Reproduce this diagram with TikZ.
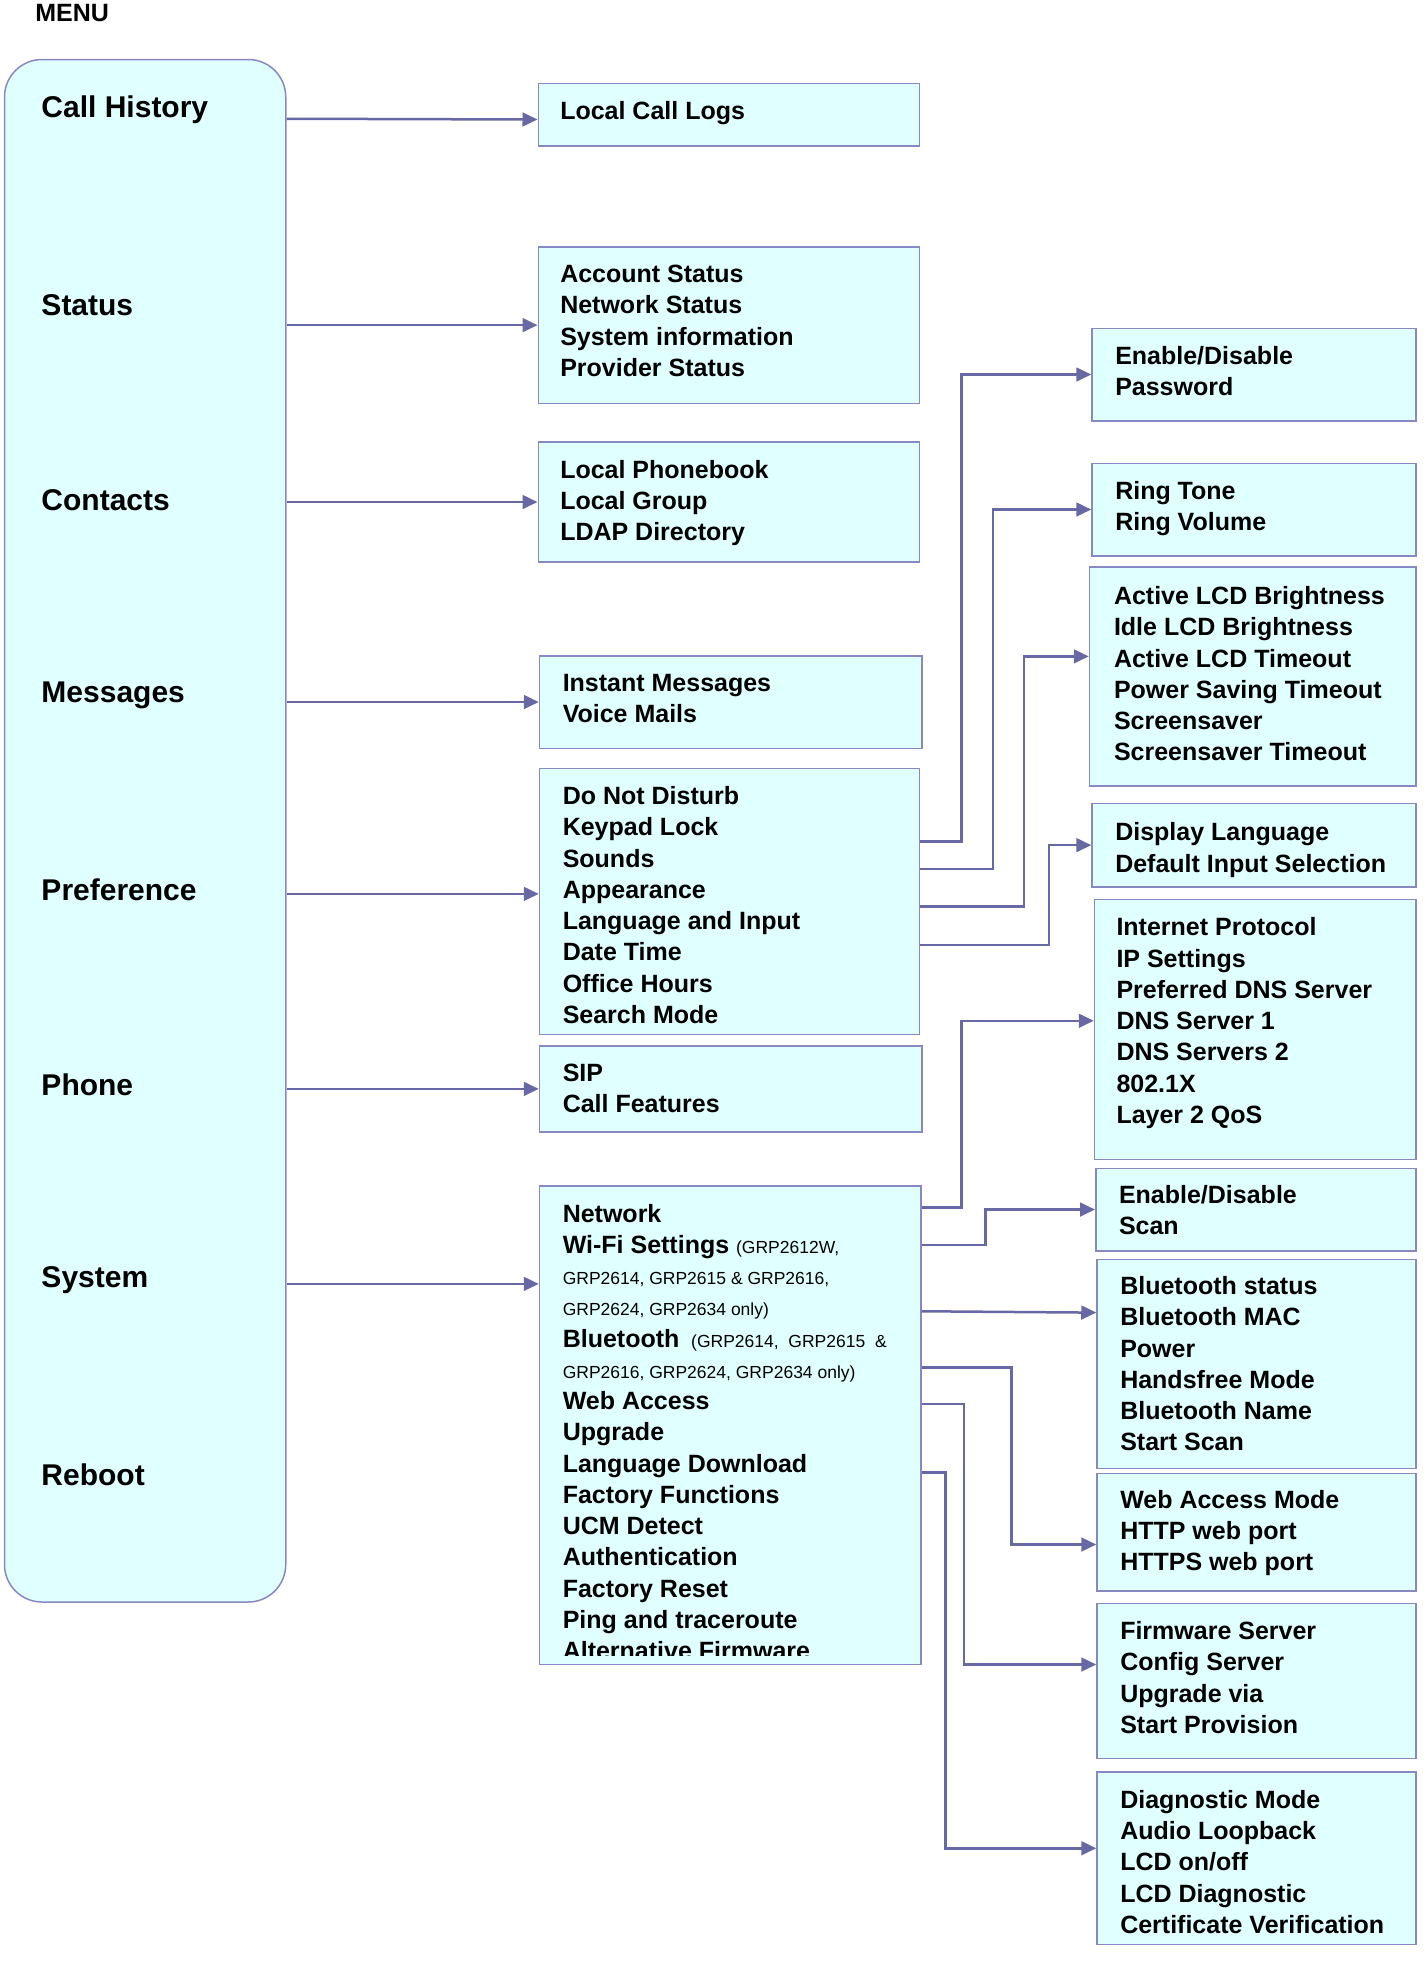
\documentclass[tikz,border=0pt]{standalone}
\usepackage{fontspec}
\setmainfont{Liberation Sans}
\usetikzlibrary{arrows.meta}
\newcommand\smx{\fontsize{14}{25}\selectfont\mdseries}
\begin{document}
\begin{tikzpicture}[x=1pt,y=-1pt,
  box/.style={draw=boxline,fill=boxfill,line width=1.2pt,rectangle,inner sep=0,anchor=north west},
  txt/.style={anchor=north west,inner sep=0,align=left,font=\fontsize{20}{25}\selectfont\bfseries},
  lbl/.style={anchor=west,inner sep=0,font=\fontsize{24}{28}\selectfont\bfseries},
  arr/.style={draw=arrline,line width=2pt,-{Triangle[length=12pt,width=11pt]}}]
\definecolor{boxfill}{HTML}{E0FFFF}
\definecolor{boxline}{HTML}{8888C4}
\definecolor{arrline}{HTML}{6868A4}
\useasboundingbox (0,0) rectangle (1139.2,1575.2);
\node[anchor=base west,inner sep=0,font=\fontsize{20}{24}\selectfont\bfseries] (menu) at (28,17) {MENU};
\node[box,rounded corners=30pt,minimum width=225pt,minimum height=1234pt] (main) at (3,47) {};
\node[lbl] (l1) at (33,88) {Call History};
\node[lbl] (l2) at (33,244) {Status};
\node[lbl] (l3) at (33,400) {Contacts};
\node[lbl] (l4) at (33,556) {Messages};
\node[lbl] (l5) at (33,712) {Preference};
\node[lbl] (l6) at (33,868) {Phone};
\node[lbl] (l7) at (33,1024) {System};
\node[lbl] (l8) at (33,1180) {Reboot};
% middle boxes
\node[box,minimum width=305pt,minimum height=50pt] (b1) at (430,66) {};
\node[txt] (t1) at (448,81) {Local Call Logs};
\node[box,minimum width=305pt,minimum height=125pt] (b2) at (430,197) {};
\node[txt] (t2) at (448,212) {Account Status\\Network Status\\System information\\Provider Status};
\node[box,minimum width=305pt,minimum height=96pt] (b3) at (430,353) {};
\node[txt] (t3) at (448,368) {Local Phonebook\\Local Group\\LDAP Directory};
\node[box,minimum width=306pt,minimum height=74pt] (b4) at (431,524) {};
\node[txt] (t4) at (450,539) {Instant Messages\\Voice Mails};
\node[box,minimum width=304pt,minimum height=213pt] (b5) at (431,614) {};
\begin{scope}
\clip (431,614) rectangle (735,822);
\node[txt] (t5) at (450,629) {Do Not Disturb\\Keypad Lock\\Sounds\\Appearance\\Language and Input\\Date Time\\Office Hours\\Search Mode};
\end{scope}
\node[box,minimum width=306pt,minimum height=69pt] (b6) at (431,836) {};
\node[txt] (t6) at (450,851) {SIP\\Call Features};
\node[box,minimum width=305pt,minimum height=383pt] (b7) at (431,948) {};
\begin{scope}
\clip (431,948) rectangle (736,1324);
\node[txt] (t7) at (450,963) {Network\\Wi-Fi Settings {\smx (GRP2612W,}\\{\smx GRP2614, GRP2615 \& GRP2616,}\\{\smx GRP2624, GRP2634 only)}\\Bluetooth {\smx\ (GRP2614,\ \ GRP2615\ \ \&}\\{\smx GRP2616, GRP2624, GRP2634 only)}\\Web Access\\Upgrade\\Language Download\\Factory Functions\\UCM Detect\\Authentication\\Factory Reset\\Ping and traceroute\\Alternative Firmware};
\end{scope}
% right boxes
\node[box,minimum width=259pt,minimum height=74pt] (r1) at (873,262) {};
\node[txt] (s1) at (892,277) {Enable/Disable\\Password};
\node[box,minimum width=259pt,minimum height=74pt] (r2) at (873,370) {};
\node[txt] (s2) at (892,385) {Ring Tone\\Ring Volume};
\node[box,minimum width=261pt,minimum height=175pt] (r3) at (871,453) {};
\node[txt] (s3) at (891,469) {Active LCD Brightness\\Idle LCD Brightness\\Active LCD Timeout\\Power Saving Timeout\\Screensaver\\Screensaver Timeout};
\node[box,minimum width=259pt,minimum height=67pt] (r4) at (873,642) {};
\node[txt] (s4) at (892,658) {Display Language\\Default Input Selection};
\node[box,minimum width=257pt,minimum height=208pt] (r5) at (875,719) {};
\node[txt] (s5) at (893,734) {Internet Protocol\\IP Settings\\Preferred DNS Server\\DNS Server 1\\DNS Servers 2\\802.1X\\Layer 2 QoS};
\node[box,minimum width=256pt,minimum height=66pt] (r6) at (876,934) {};
\node[txt] (s6) at (895,948) {Enable/Disable\\Scan};
\node[box,minimum width=255pt,minimum height=167pt] (r7) at (877,1007) {};
\node[txt] (s7) at (896,1021) {Bluetooth status\\Bluetooth MAC\\Power\\Handsfree Mode\\Bluetooth Name\\Start Scan};
\node[box,minimum width=255pt,minimum height=94pt] (r8) at (877,1178) {};
\node[txt] (s8) at (896,1192) {Web Access Mode\\HTTP web port\\HTTPS web port};
\node[box,minimum width=255pt,minimum height=124pt] (r9) at (877,1282) {};
\node[txt] (s9) at (896,1297) {Firmware Server\\Config Server\\Upgrade via\\Start Provision};
\node[box,minimum width=255pt,minimum height=138pt] (r10) at (877,1417) {};
\node[txt] (s10) at (896,1432) {Diagnostic Mode\\Audio Loopback\\LCD on/off\\LCD Diagnostic\\Certificate Verification};
% left arrows
\draw[arr] ([yshift=-48pt]main.north east) -- ([yshift=-4pt]b1.west);
\draw[arr] (main.east|-b2.west) -- (b2.west);
\draw[arr] (main.east|-b3.west) -- (b3.west);
\draw[arr] (main.east|-b4.west) -- (b4.west);
\draw[arr] ([yshift=6pt]main.east|-b5.west) -- ([yshift=6pt]b5.west);
\draw[arr] (main.east|-b6.west) -- (b6.west);
\draw[arr] ([yshift=113pt]main.east|-b7.west) -- ([yshift=113pt]b7.west);
% right arrows
\draw[arr] ([yshift=-59pt]b5.north east) -- ++(33,0) |- (r1.west);
\draw[arr] ([yshift=-81pt]b5.north east) -- ++(58,0) |- (r2.west);
\draw[arr] ([yshift=-111pt]b5.north east) -- ++(83,0) |- ([yshift=16pt]r3.west);
\draw[arr] ([yshift=-142pt]b5.north east) -- ++(103,0) |- (r4.west);
\draw[arr] ([yshift=-18pt]b7.north east) -- ++(32,0) |- ([yshift=7pt]r5.west);
\draw[arr] ([yshift=-48pt]b7.north east) -- ++(51,0) |- (r6.west);
\draw[arr] ([yshift=-101pt]b7.north east) -- ([yshift=41pt]r7.west);
\draw[arr] ([yshift=-146pt]b7.north east) -- ++(72,0) |- ([yshift=-10pt]r8.west);
\draw[arr] ([yshift=-175pt]b7.north east) -- ++(34,0) |- ([yshift=13pt]r9.west);
\draw[arr] ([yshift=-230pt]b7.north east) -- ++(19,0) |- ([yshift=8pt]r10.west);
\end{tikzpicture}
\end{document}
